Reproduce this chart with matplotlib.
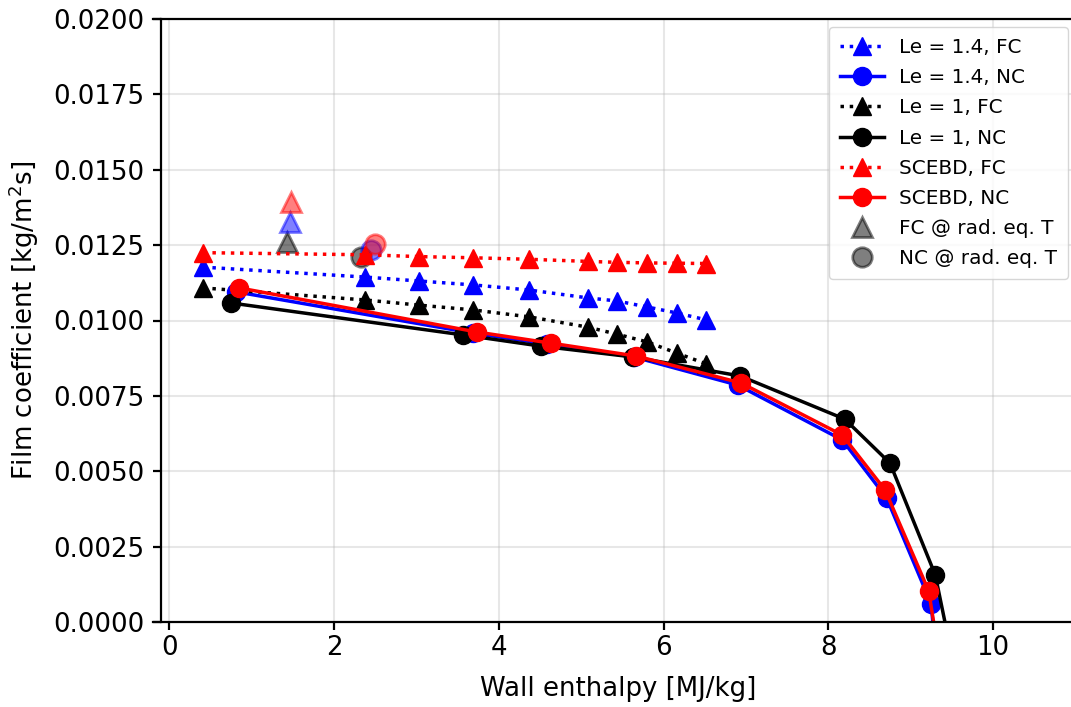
import matplotlib
matplotlib.use('Agg')
import matplotlib.pyplot as plt
from matplotlib.ticker import FormatStrFormatter, MultipleLocator

# Wall enthalpy [MJ/kg] for the frozen-chemistry (FC) runs
h_fc = [0.41, 2.38, 3.03, 3.69, 4.37, 5.08, 5.43, 5.80, 6.16, 6.52]
le14_fc = [0.01177, 0.01144, 0.01131, 0.01118, 0.01101, 0.01075, 0.01065, 0.01045, 0.01025, 0.01002]
le1_fc = [0.01108, 0.01068, 0.01051, 0.01035, 0.01012, 0.00978, 0.00955, 0.00929, 0.00892, 0.00856]
scebd_fc = [0.01225, 0.01218, 0.01212, 0.01208, 0.01203, 0.01196, 0.01193, 0.01191, 0.01190, 0.01189]

# Non-catalytic (NC) runs
h_le14_nc = [0.81, 3.69, 4.59, 5.64, 6.90, 8.17, 8.71, 9.25, 9.30]
le14_nc = [0.01095, 0.00958, 0.00922, 0.00879, 0.00786, 0.00604, 0.00411, 0.00060, -0.0009]
h_le1_nc = [0.75, 3.57, 4.51, 5.63, 6.93, 8.20, 8.75, 9.30, 9.50]
le1_nc = [0.01058, 0.00952, 0.00915, 0.00879, 0.00816, 0.00673, 0.00527, 0.00156, -0.0011]
h_scebd_nc = [0.85, 3.73, 4.63, 5.67, 6.94, 8.17, 8.69, 9.22, 9.35]
scebd_nc = [0.01108, 0.00962, 0.00925, 0.00882, 0.00793, 0.00620, 0.00438, 0.00103, -0.0012]

# Points at radiative-equilibrium wall temperature (gray, Le=1.4, SCEBD)
rad_colors = ['k', 'b', 'r']
rad_fc_h = [1.43, 1.46, 1.47]
rad_fc = [0.01260, 0.01327, 0.01393]
rad_nc_h = [2.33, 2.45, 2.50]
rad_nc = [0.01211, 0.01234, 0.01254]

plt.rcParams['font.family'] = ['DejaVu Sans']
fs = 18.7

fig = plt.figure(figsize=(10.71, 7.07), dpi=100)
ax = fig.add_axes([153 / 1071, 1 - 622 / 707, (1083.5 - 153) / 1071, (622 - 19) / 707])

lw = 2.5
ms = 13
ax.plot(h_fc, le14_fc, ':', color='b', marker='^', lw=lw, ms=ms, label='Le = 1.4, FC')
ax.plot(h_le14_nc, le14_nc, '-', color='b', marker='o', lw=lw, ms=ms, label='Le = 1.4, NC')
ax.plot(h_fc, le1_fc, ':', color='k', marker='^', lw=lw, ms=ms, label='Le = 1, FC')
ax.plot(h_le1_nc, le1_nc, '-', color='k', marker='o', lw=lw, ms=ms, label='Le = 1, NC')
ax.plot(h_fc, scebd_fc, ':', color='r', marker='^', lw=lw, ms=ms, label='SCEBD, FC')
ax.plot(h_scebd_nc, scebd_nc, '-', color='r', marker='o', lw=lw, ms=ms, label='SCEBD, NC')

for i, c in enumerate(rad_colors):
    ax.plot(rad_fc_h[i], rad_fc[i], ls='none', marker='^', color=c, alpha=0.5, ms=ms + 1,
            mew=2, zorder=1.5, label='FC @ rad. eq. T' if c == 'k' else None)
for i, c in enumerate(rad_colors):
    ax.plot(rad_nc_h[i], rad_nc[i], ls='none', marker='o', color=c, alpha=0.5, ms=ms + 1,
            mew=2, zorder=1.5, label='NC @ rad. eq. T' if c == 'k' else None)

ax.set_xlim(-0.2, 11.1)
ax.set_ylim(0, 0.02)
ax.xaxis.set_major_locator(MultipleLocator(2))
ax.yaxis.set_major_locator(MultipleLocator(0.0025))
ax.yaxis.set_major_formatter(FormatStrFormatter('%.4f'))
ax.grid(True, color='#b0b0b0', lw=1.5, alpha=0.3)
ax.set_axisbelow(True)

ax.spines['left'].set_position(('data', -0.1))
for s in ax.spines.values():
    s.set_linewidth(1.6)
ax.tick_params(labelsize=fs, width=1.6, length=6)
ax.tick_params(axis='y', pad=6)

ax.set_xlabel('Wall enthalpy [MJ/kg]', fontsize=fs, labelpad=11)
ax.set_ylabel('Film coefficient [kg/m$^2$s]', fontsize=fs, labelpad=9)

ax.legend(loc='upper right', bbox_to_anchor=(1068 / 1071, 1 - 27 / 707),
          bbox_transform=fig.transFigure, borderaxespad=0, fontsize=14.4,
          numpoints=1, handlelength=2.2, handletextpad=0.75, labelspacing=0.56,
          borderpad=0.55)

fig.savefig('out.png', dpi=100)
